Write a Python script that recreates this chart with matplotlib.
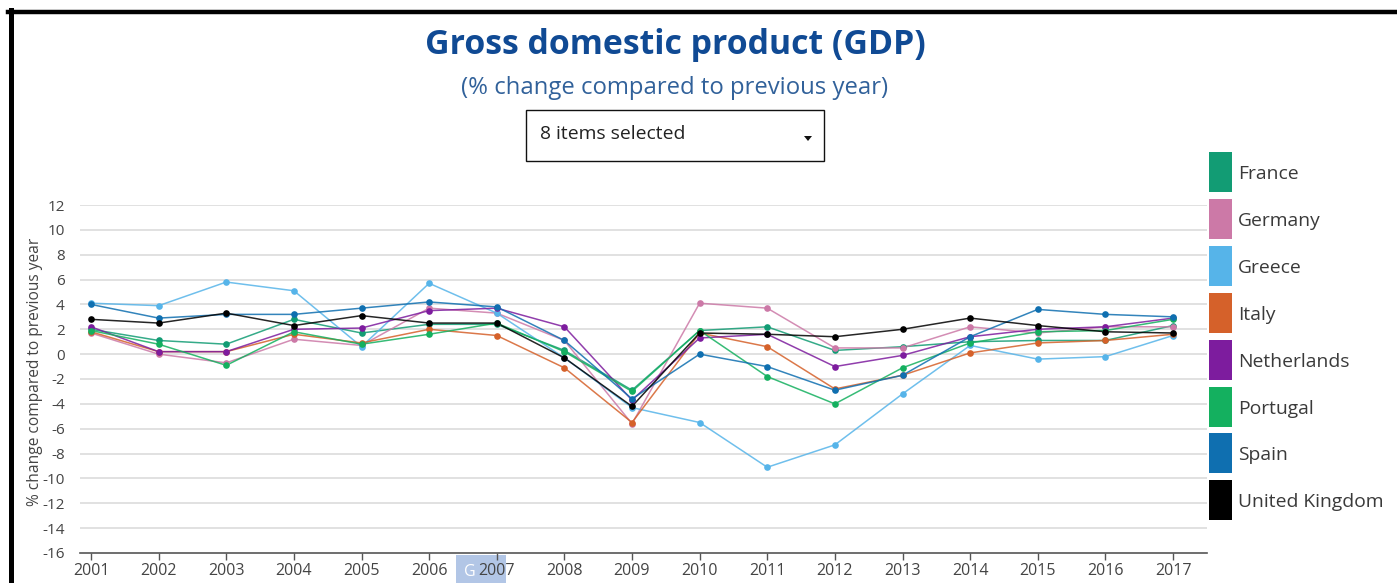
import matplotlib
matplotlib.use("Agg")
import matplotlib.pyplot as plt
from matplotlib.patches import Rectangle, Polygon
from matplotlib.lines import Line2D

# Real GDP growth, % change compared to previous year
years = list(range(2001, 2018))
france = [2.0, 1.1, 0.8, 2.8, 1.7, 2.4, 2.4, 0.3, -2.9, 1.9, 2.2, 0.3, 0.6, 1.0, 1.1, 1.1, 2.3]
germany = [1.7, 0.0, -0.7, 1.2, 0.7, 3.7, 3.3, 1.1, -5.6, 4.1, 3.7, 0.5, 0.5, 2.2, 1.7, 2.2, 2.2]
greece = [4.1, 3.9, 5.8, 5.1, 0.6, 5.7, 3.3, -0.3, -4.3, -5.5, -9.1, -7.3, -3.2, 0.7, -0.4, -0.2, 1.5]
italy = [1.8, 0.2, 0.2, 1.6, 0.9, 2.0, 1.5, -1.1, -5.5, 1.7, 0.6, -2.8, -1.7, 0.1, 0.9, 1.1, 1.6]
netherlands = [2.2, 0.2, 0.2, 2.0, 2.1, 3.5, 3.7, 2.2, -3.7, 1.3, 1.6, -1.0, -0.1, 1.4, 2.0, 2.2, 2.9]
portugal = [1.9, 0.8, -0.9, 1.8, 0.8, 1.6, 2.5, 0.2, -3.0, 1.9, -1.8, -4.0, -1.1, 0.9, 1.8, 1.9, 2.8]
spain = [4.0, 2.9, 3.2, 3.2, 3.7, 4.2, 3.8, 1.1, -3.6, 0.0, -1.0, -2.9, -1.7, 1.4, 3.6, 3.2, 3.0]
uk = [2.8, 2.5, 3.3, 2.3, 3.1, 2.5, 2.5, -0.3, -4.2, 1.7, 1.6, 1.4, 2.0, 2.9, 2.3, 1.8, 1.7]

countries = ["France", "Germany", "Greece", "Italy", "Netherlands",
             "Portugal", "Spain", "United Kingdom"]
series = [france, germany, greece, italy, netherlands, portugal, spain, uk]
colors = ["#129c74", "#cc79a7", "#56b4e9", "#d5612a", "#7d1c9e",
          "#14b05f", "#0f6fb0", "#000000"]
y_ticks = list(range(-16, 13, 2))

title = "Gross domestic product (GDP)"
subtitle = "(% change compared to previous year)"
y_label = "% change compared to previous year"
selector_text = "8 items selected"

W, H = 1397, 583
plt.rcParams["font.family"] = ["Open Sans", "DejaVu Sans"]

fig = plt.figure(figsize=(W / 100, H / 100), dpi=100)
fig.patch.set_facecolor("white")


def fx(x):
    return x / W


def fy(y):
    return 1 - y / H


# plot area
ax_l, ax_r, ax_t, ax_b = 80, 1207, 205, 553
ax = fig.add_axes([fx(ax_l), fy(ax_b), (ax_r - ax_l) / W, (ax_b - ax_t) / H])
ax.set_facecolor("none")

for name, vals, col in zip(countries, series, colors):
    ax.plot(years, vals, color=col, lw=1.1, alpha=0.85, zorder=3)
    ax.plot(years, vals, ls="none", marker="o", ms=4.8, color=col,
            markeredgewidth=0, zorder=4)

ax.set_ylim(-16, 12)
ax.set_xlim(2001 - 11 / 67.625, 2017 + 34 / 67.625)
ax.set_yticks(y_ticks)
ax.set_yticklabels([str(t) for t in y_ticks])
ax.set_xticks(years)
ax.set_xticklabels([str(y) for y in years])

for t in y_ticks[1:]:
    ax.axhline(t, color="#d9d9d9", lw=1.1, zorder=1)

for side in ["top", "right", "left"]:
    ax.spines[side].set_visible(False)
ax.spines["bottom"].set_color("#555555")
ax.spines["bottom"].set_linewidth(1.2)
ax.spines["bottom"].set_zorder(5)

ax.tick_params(axis="y", length=0, pad=11, labelsize=11, labelcolor="#444444")
ax.tick_params(axis="x", length=5, width=1.0, color="#555555", pad=2,
               labelsize=11.5, labelcolor="#444444")

# highlighted label box below the axis, drawn beneath the tick labels
fig.patches.append(Rectangle((fx(456), fy(583)), 50 / W, 28 / H,
                             transform=fig.transFigure, facecolor="#b2c6e6",
                             edgecolor="none", zorder=-2))
fig.text(fx(470), fy(572), "G", color="white", fontsize=11.5,
         ha="center", va="center", zorder=-1)

# y-axis title
fig.text(fx(35), fy(372), y_label, rotation=90, ha="center", va="center",
         fontsize=11.2, color="#444444")

# headings
fig.text(fx(675), fy(45), title, ha="center", va="center", fontsize=24.4,
         fontweight="bold", color="#104a94")
fig.text(fx(675), fy(88), subtitle, ha="center", va="center", fontsize=17.2,
         color="#31619a")

# selector box
fig.patches.append(Rectangle((fx(526), fy(161)), 298 / W, 51 / H,
                             transform=fig.transFigure, facecolor="white",
                             edgecolor="#111111", lw=1.0))
fig.text(fx(540), fy(134), selector_text, ha="left", va="center",
         fontsize=13.9, color="#222222")
fig.patches.append(Polygon([(fx(804), fy(136)), (fx(812), fy(136)),
                            (fx(808), fy(141))], closed=True,
                           transform=fig.transFigure, facecolor="#111111",
                           edgecolor="none"))

# legend
for i, (name, col) in enumerate(zip(countries, colors)):
    top = 152 + i * 46.9
    fig.patches.append(Rectangle((fx(1209), fy(top + 40)), 23 / W, 40 / H,
                                 transform=fig.transFigure, facecolor=col,
                                 edgecolor="none"))
    fig.text(fx(1238), fy(top + 22), name, ha="left", va="center",
             fontsize=13.9, color="#3a3a3a")

# outer frame (top and left edges)
fig.add_artist(Line2D([fx(8), fx(1397)], [fy(12), fy(12)],
                      transform=fig.transFigure, color="black", lw=3.2))
fig.add_artist(Line2D([fx(10.5), fx(10.5)], [fy(10), fy(583)],
                      transform=fig.transFigure, color="black", lw=3.6))

fig.savefig("out.png", dpi=100)
